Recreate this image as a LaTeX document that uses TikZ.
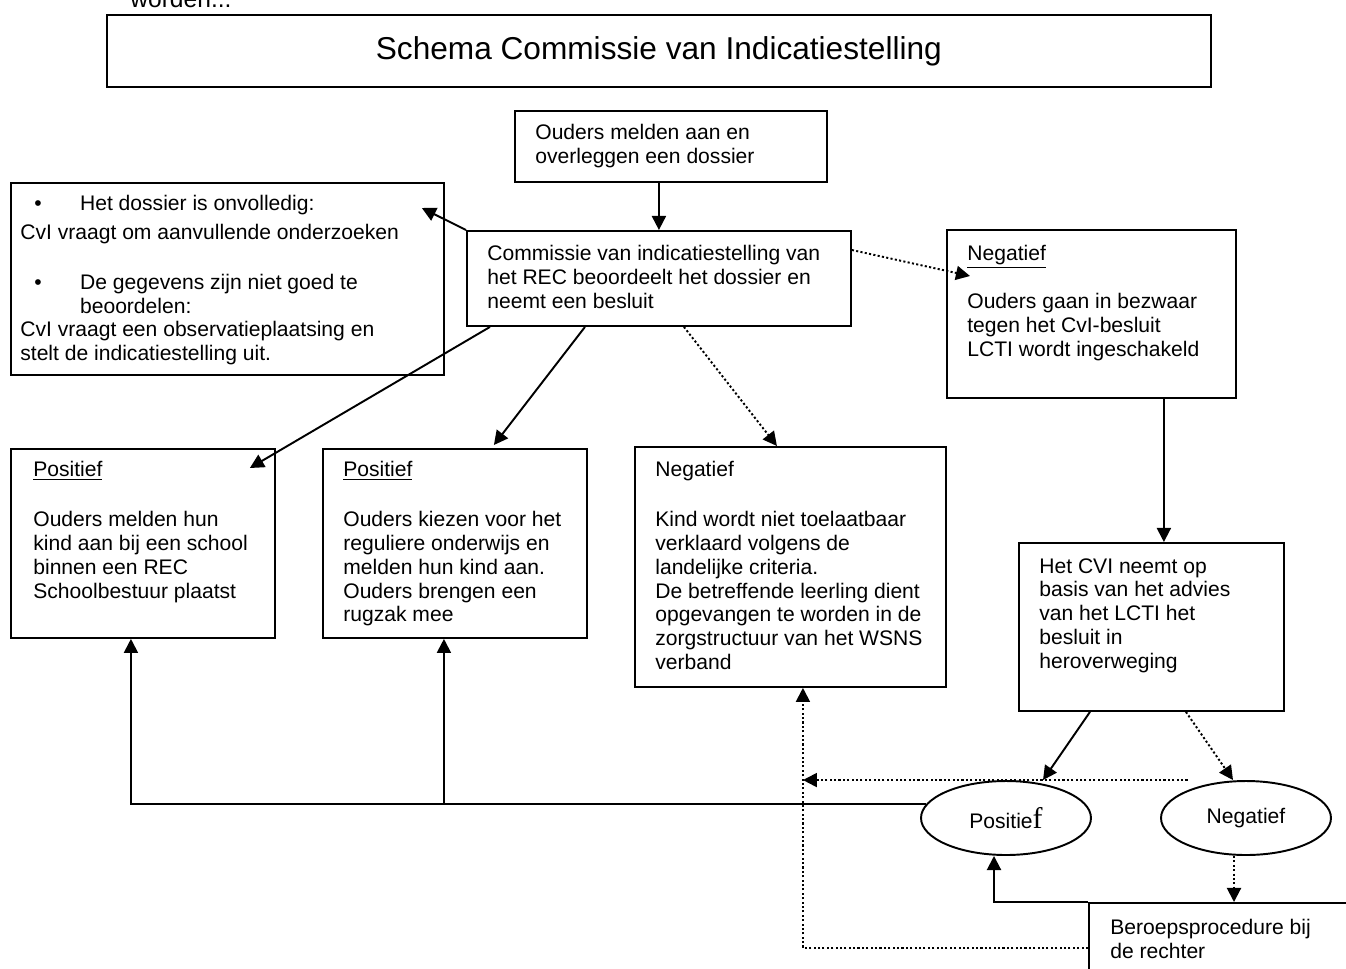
\documentclass[tikz,border=0pt]{standalone}
\usepackage{fontspec}
\setmainfont{Liberation Sans}
\newfontfamily\serifletter{Liberation Serif}
\usetikzlibrary{arrows.meta,shapes.geometric}

\tikzset{
  kader/.style={draw, line width=1.1pt, inner sep=0pt, anchor=north west},
  tekst/.style={anchor=north west, inner sep=0pt, align=left, font=\fontsize{12}{13.6}\selectfont},
  ovaal/.style={draw, ellipse, line width=1.1pt, inner sep=0pt, minimum width=3.4cm, minimum height=1.48cm, font=\fontsize{12}{13.6}\selectfont},
  pijl/.style={-{Triangle[length=8pt,width=8pt]}, line width=1.1pt},
  stippijl/.style={pijl, dash pattern=on 1.2pt off 1.3pt}
}

\begin{document}
\begin{tikzpicture}[x=0.02cm, y=-0.02cm]

    \useasboundingbox (0,0) rectangle (1346,968);
    \clip (0,0) rectangle (1346,968);

    % Cut-off line above the title
    \node[anchor=base west, inner sep=0pt, font=\fontsize{14}{16}\selectfont] (kop) at (130,7) {worden...};

    % Title
    \node[kader, minimum width=22.08cm, minimum height=1.44cm, font=\fontsize{18}{20}\selectfont] (titel) at (106,14) {Schema Commissie van Indicatiestelling};

    % Ouders melden aan
    \node[kader, minimum width=6.24cm, minimum height=1.42cm] (ouders) at (514,110) {};
    \node[tekst] (oudersTxt) at (535,124) {Ouders melden aan en\\overleggen een dossier};

    % Commissie van indicatiestelling
    \node[kader, minimum width=7.68cm, minimum height=1.9cm] (rec) at (466,230) {};
    \node[tekst] (recTxt) at (487,245) {Commissie van indicatiestelling van\\het REC beoordeelt het dossier en\\neemt een besluit};

    % Dossier onvolledig
    \node[kader, minimum width=8.66cm, minimum height=3.84cm] (nader) at (10,182) {};
    \node[tekst] (naderTxt) at (20,195) {\makebox[34pt][l]{\hspace*{8pt}\textbullet}Het dossier is onvolledig:\\[2.8pt]
        CvI vraagt om aanvullende onderzoeken\\[14.7pt]
        \makebox[34pt][l]{\hspace*{8pt}\textbullet}De gegevens zijn niet goed te\\
        \hspace*{34pt}beoordelen:\\
        CvI vraagt een observatieplaatsing en\\
        stelt de indicatiestelling uit.};

    % Positief (school binnen REC)
    \node[kader, minimum width=5.28cm, minimum height=3.78cm] (pos1) at (10,448) {};
    \node[tekst] (pos1Txt) at (33,461) {\underline{Positief}\\[14.7pt]Ouders melden hun\\kind aan bij een school\\binnen een REC\\Schoolbestuur plaatst};

    % Positief (regulier onderwijs)
    \node[kader, minimum width=5.28cm, minimum height=3.78cm] (pos2) at (322,448) {};
    \node[tekst] (pos2Txt) at (343,461) {\underline{Positief}\\[14.7pt]Ouders kiezen voor het\\reguliere onderwijs en\\melden hun kind aan.\\Ouders brengen een\\rugzak mee};

    % Negatief (niet toelaatbaar)
    \node[kader, minimum width=6.22cm, minimum height=4.8cm] (neg3) at (634,446) {};
    \node[tekst] (neg3Txt) at (655,461) {Negatief\\[14.7pt]Kind wordt niet toelaatbaar\\verklaard volgens de\\landelijke criteria.\\De betreffende leerling dient\\opgevangen te worden in de\\zorgstructuur van het WSNS\\verband};

    % Negatief (bezwaar)
    \node[kader, minimum width=5.78cm, minimum height=3.36cm] (bezwaar) at (946,229) {};
    \node[tekst] (bezwaarTxt) at (967,245) {\underline{Negatief}\\[13.6pt]Ouders gaan in bezwaar\\tegen het CvI-besluit\\LCTI wordt ingeschakeld};

    % Heroverweging door CVI
    \node[kader, minimum width=5.3cm, minimum height=3.36cm] (cvi) at (1018,542) {};
    \node[tekst] (cviTxt) at (1039,558) {Het CVI neemt op\\basis van het advies\\van het LCTI het\\besluit in\\heroverweging};

    % Uitkomsten
    \node[ovaal] (posE) at (1006,818) {Positie{\serifletter\fontsize{17}{17}\selectfont f}};
    \node[ovaal] (negE) at (1246,818) {\raisebox{2.8pt}{Negatief}};

    % Beroepsprocedure
    \node[kader, minimum width=6.24cm, minimum height=2cm] (beroep) at (1088,902) {};
    \node[tekst] (beroepTxt) at (1110,919) {Beroepsprocedure bij\\de rechter};

    % Arrows from the top
    \draw[pijl] (ouders.south -| rec.north) -- (rec.north);
    \draw[pijl] (rec.north west) -- ([xshift=-0.46cm,yshift=-0.52cm]nader.north east);
    \draw[pijl] ([xshift=0.48cm]rec.south west) -- ([xshift=-0.52cm,yshift=-0.4cm]pos1.north east);
    \draw[pijl] ([xshift=2.38cm]rec.south west) -- ([xshift=-1.88cm,yshift=0.06cm]pos2.north east);
    \draw[stippijl] ([xshift=0.5cm]rec.south) -- ([xshift=-0.27cm]neg3.north);
    \draw[stippijl] ([yshift=-0.4cm]rec.north east) -- ([xshift=0.48cm,yshift=-0.94cm]bezwaar.north west);

    % Bezwaar and heroverweging
    \draw[pijl] ([xshift=-1.46cm]bezwaar.south east) -- ([xshift=-1.46cm]bezwaar.south east |- cvi.north);
    \draw[pijl] ([xshift=1.44cm]cvi.south west) -- ([xshift=0.74cm]posE.north);
    \draw[stippijl] ([xshift=3.36cm]cvi.south west) -- ([xshift=-0.26cm]negE.north);

    % Positief back to the schools
    \coordinate (knik) at ([xshift=-0.24cm]pos1.south |- posE.170);
    \draw[pijl] (posE.170) -- (knik) -- ([xshift=-0.24cm]pos1.south);
    \draw[pijl] ([xshift=-0.22cm]pos2.south |- posE.170) -- ([xshift=-0.22cm]pos2.south);

    % Negatief back to neg3
    \coordinate (negL) at ([xshift=-1.17cm]negE.north);
    \coordinate (beroepL) at ([yshift=-0.92cm]beroep.north west);
    \draw[stippijl] (negL) -- ([xshift=0.25cm]neg3.south |- negL);
    \draw[stippijl] (beroepL) -- ([xshift=0.25cm]neg3.south |- beroepL) -- ([xshift=0.25cm]neg3.south);

    % Beroep
    \draw[pijl] (beroep.north west) -- ([xshift=-0.24cm]posE.south |- beroep.north west) -- ([xshift=-0.24cm]posE.south);
    \draw[stippijl] ([xshift=-0.24cm]negE.south) -- ([xshift=-0.24cm]negE.south |- beroep.north);

\end{tikzpicture}
\end{document}
